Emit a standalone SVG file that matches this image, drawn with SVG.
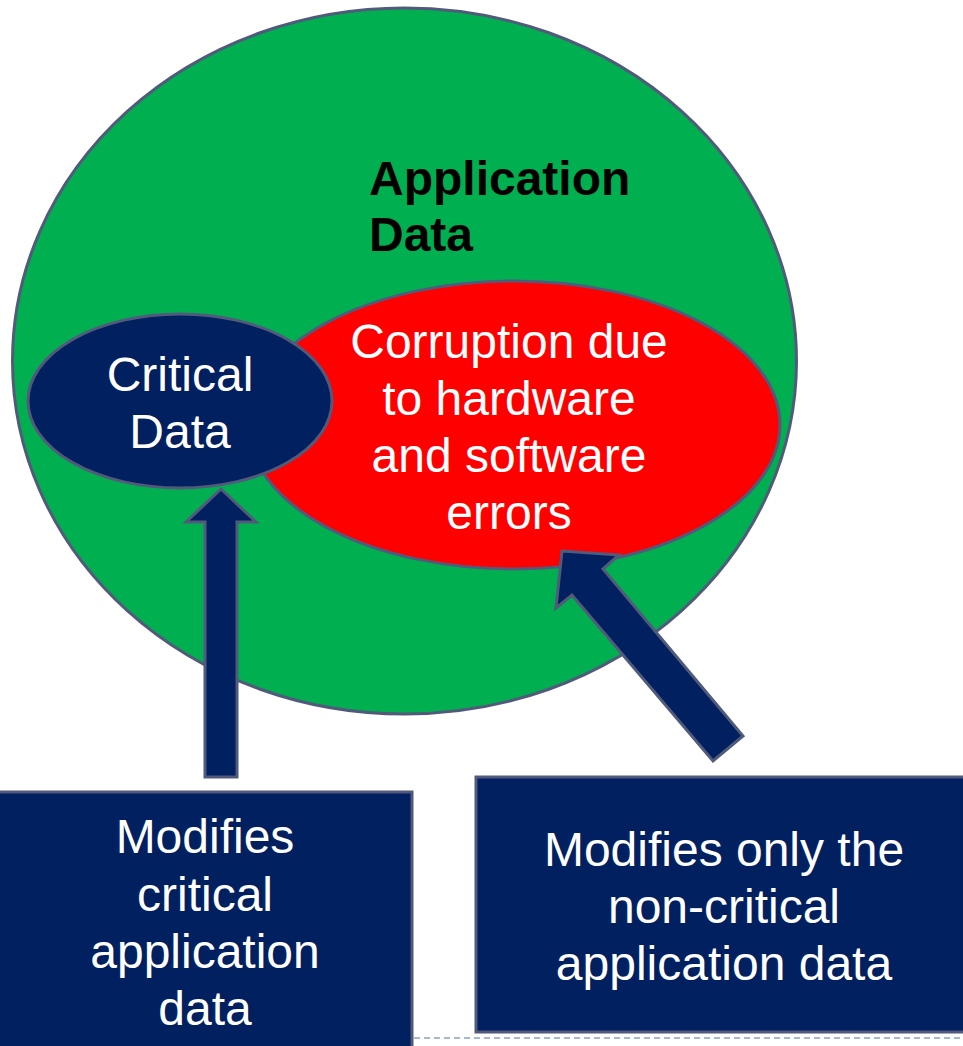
<svg xmlns="http://www.w3.org/2000/svg" width="963" height="1046" viewBox="0 0 963 1046">
<style>
.edge{stroke:#515a7b;stroke-width:3}
.t{font-family:"Liberation Sans",Arial,sans-serif;font-size:48px;fill:#ffffff;text-anchor:middle}
.b{font-family:"Liberation Sans",Arial,sans-serif;font-size:48px;font-weight:bold;fill:#000000}
</style>
<rect width="963" height="1046" fill="#ffffff"/>
<g id="app-data">
<ellipse class="edge" cx="404.5" cy="361" rx="392" ry="353" fill="#00b050"/>
<text class="b" x="369" y="195">Application</text>
<text class="b" x="369" y="251">Data</text>
</g>
<g id="corruption">
<ellipse class="edge" cx="514" cy="425" rx="266" ry="144" fill="#ff0000"/>
<text class="t" x="509" y="358">Corruption due</text>
<text class="t" x="509" y="415">to hardware</text>
<text class="t" x="509" y="472">and software</text>
<text class="t" x="509" y="529">errors</text>
</g>
<g id="critical">
<ellipse class="edge" cx="180" cy="401" rx="152" ry="87" fill="#002060"/>
<text class="t" x="180" y="391">Critical</text>
<text class="t" x="180" y="448">Data</text>
</g>
<g id="connectors">
<polygon class="edge" fill="#002060" points="221,489 256,522 237,522 237,777 205,777 205,522 186,522"/>
<polygon class="edge" fill="#002060" points="562,551 619,555 603,569 743,736 713,761 572,595 556,608"/>
</g>
<g id="box-critical">
<rect class="edge" x="-5" y="792" width="417" height="300" fill="#002060"/>
<text class="t" x="205" y="853">Modifies</text>
<text class="t" x="205" y="911">critical</text>
<text class="t" x="205" y="968">application</text>
<text class="t" x="205" y="1025">data</text>
</g>
<g id="box-noncritical">
<rect class="edge" x="476" y="777" width="500" height="255" fill="#002060"/>
<text class="t" x="724" y="866">Modifies only the</text>
<text class="t" x="724" y="923">non-critical</text>
<text class="t" x="724" y="980">application data</text>
</g>
<line x1="414" y1="1038" x2="963" y2="1038" stroke="#a7b9cc" stroke-width="2" stroke-dasharray="6 4"/>
</svg>
